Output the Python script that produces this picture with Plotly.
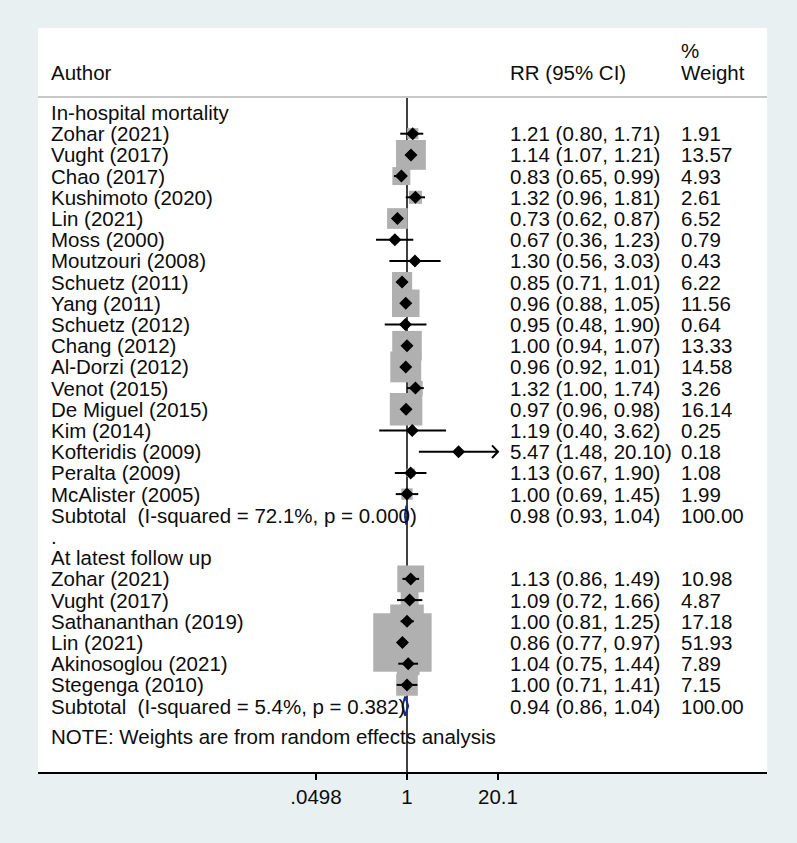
import math
import plotly.graph_objects as go

# ---------------- data ----------------
group_titles = ["In-hospital mortality", "At latest follow up"]

g1_authors = ["Zohar (2021)", "Vught (2017)", "Chao (2017)", "Kushimoto (2020)", "Lin (2021)",
              "Moss (2000)", "Moutzouri (2008)", "Schuetz (2011)", "Yang (2011)", "Schuetz (2012)",
              "Chang (2012)", "Al-Dorzi (2012)", "Venot (2015)", "De Miguel (2015)", "Kim (2014)",
              "Kofteridis (2009)", "Peralta (2009)", "McAlister (2005)"]
g1_rr = [1.21, 1.14, 0.83, 1.32, 0.73, 0.67, 1.30, 0.85, 0.96, 0.95, 1.00, 0.96, 1.32, 0.97, 1.19, 5.47, 1.13, 1.00]
g1_lo = [0.80, 1.07, 0.65, 0.96, 0.62, 0.36, 0.56, 0.71, 0.88, 0.48, 0.94, 0.92, 1.00, 0.96, 0.40, 1.48, 0.67, 0.69]
g1_hi = [1.71, 1.21, 0.99, 1.81, 0.87, 1.23, 3.03, 1.01, 1.05, 1.90, 1.07, 1.01, 1.74, 0.98, 3.62, 20.10, 1.90, 1.45]
g1_w = [1.91, 13.57, 4.93, 2.61, 6.52, 0.79, 0.43, 6.22, 11.56, 0.64, 13.33, 14.58, 3.26, 16.14, 0.25, 0.18, 1.08, 1.99]
g1_sub_label = "Subtotal  (I-squared = 72.1%, p = 0.000)"
g1_sub = (0.98, 0.93, 1.04)

g2_authors = ["Zohar (2021)", "Vught (2017)", "Sathananthan (2019)", "Lin (2021)", "Akinosoglou (2021)", "Stegenga (2010)"]
g2_rr = [1.13, 1.09, 1.00, 0.86, 1.04, 1.00]
g2_lo = [0.86, 0.72, 0.81, 0.77, 0.75, 0.71]
g2_hi = [1.49, 1.66, 1.25, 0.97, 1.44, 1.41]
g2_w = [10.98, 4.87, 17.18, 51.93, 7.89, 7.15]
g2_sub_label = "Subtotal  (I-squared = 5.4%, p = 0.382)"
g2_sub = (0.94, 0.86, 1.04)

note_text = "NOTE: Weights are from random effects analysis"
tick_vals = [0.0498, 1, 20.1]
tick_text = [".0498", "1", "20.1"]
axis_min, axis_max = 0.0498, 20.1

# ---------------- layout constants ----------------
W, H = 797, 843
PX_L, PX_R = 38, 767          # white plot region (px)
PX_T, PX_B = 28, 772
ROW0, ROWH = 112.5, 21.2      # pixel y of row 0, row height
X1_PX = 407                   # pixel x of RR = 1
PX_PER_LN = 30.33

FONT = "Liberation Sans, Arial, sans-serif"
FS = 20.5
COL_AUTHOR, COL_RR, COL_W = 49, 508, 679

def yrow(px):
    return (px - ROW0) / ROWH

x_range = [(PX_L - X1_PX) / PX_PER_LN / math.log(10), (PX_R - X1_PX) / PX_PER_LN / math.log(10)]
y_range = [yrow(PX_B), yrow(PX_T)]

# ---------------- rows ----------------
rows = []  # (row index, author text, rr text, weight text, kind, data)
r = 0
rows.append((r, group_titles[0], "", "", "title", None)); r += 1
for a, e, lo, hi, w in zip(g1_authors, g1_rr, g1_lo, g1_hi, g1_w):
    rows.append((r, a, f"{e:.2f} ({lo:.2f}, {hi:.2f})", f"{w:.2f}", "study", (e, lo, hi, w))); r += 1
rows.append((r, g1_sub_label, f"{g1_sub[0]:.2f} ({g1_sub[1]:.2f}, {g1_sub[2]:.2f})", "100.00", "sub", g1_sub)); r += 1
rows.append((r, ".", "", "", "blank", None)); r += 1
rows.append((r, group_titles[1], "", "", "title", None)); r += 1
for a, e, lo, hi, w in zip(g2_authors, g2_rr, g2_lo, g2_hi, g2_w):
    rows.append((r, a, f"{e:.2f} ({lo:.2f}, {hi:.2f})", f"{w:.2f}", "study", (e, lo, hi, w))); r += 1
rows.append((r, g2_sub_label, f"{g2_sub[0]:.2f} ({g2_sub[1]:.2f}, {g2_sub[2]:.2f})", "100.00", "sub", g2_sub)); r += 1
note_row = r + 0.45

fig = go.Figure()

studies = [row for row in rows if row[4] == "study"]
K = 8.1
fig.add_trace(go.Scatter(
    x=[s[5][0] for s in studies], y=[s[0] for s in studies], mode="markers",
    marker=dict(symbol="square", size=[K * math.sqrt(s[5][3]) for s in studies], color="#b0b0b0",
                opacity=1, line=dict(width=0)), hoverinfo="skip", showlegend=False))

# CI lines
cx, cy = [], []
arrow_x, arrow_y = [], []
for s in studies:
    e, lo, hi, w = s[5]
    lo_c = max(lo, axis_min)
    hi_c = min(hi, axis_max)
    cx += [lo_c, hi_c, None]
    cy += [s[0], s[0], None]
    if hi >= axis_max:
        back = math.exp(-6 / PX_PER_LN)
        arrow_x += [hi_c * back, hi_c, hi_c * back, None]
        arrow_y += [s[0] - 0.3, s[0], s[0] + 0.3, None]
fig.add_trace(go.Scatter(x=cx, y=cy, mode="lines", line=dict(color="black", width=2),
                         hoverinfo="skip", showlegend=False))
fig.add_trace(go.Scatter(x=arrow_x, y=arrow_y, mode="lines", line=dict(color="black", width=2),
                         hoverinfo="skip", showlegend=False))
fig.add_trace(go.Scatter(
    x=[s[5][0] for s in studies], y=[s[0] for s in studies], mode="markers",
    marker=dict(symbol="diamond", size=10, color="black", opacity=1), hoverinfo="skip", showlegend=False))

# subtotal diamonds
for row in rows:
    if row[4] == "sub":
        e, lo, hi = row[5]
        y0 = row[0]
        fig.add_trace(go.Scatter(x=[lo, e, hi, e, lo], y=[y0, y0 - 0.45, y0, y0 + 0.45, y0],
                                 mode="lines", line=dict(color="#1a2a8a", width=2),
                                 hoverinfo="skip", showlegend=False))

# text
ann = []
def txt(xpx, y, s):
    ann.append(dict(x=xpx / W, xref="paper", y=y, yref="y", text=s, showarrow=False,
                    xanchor="left", yanchor="middle", font=dict(family=FONT, size=FS, color="#0d0d0d")))
for row in rows:
    txt(COL_AUTHOR, row[0], row[1])
    if row[2]:
        txt(COL_RR, row[0], row[2])
    if row[3]:
        txt(COL_W, row[0], row[3])
txt(COL_AUTHOR, note_row, note_text)
txt(COL_AUTHOR, yrow(72), "Author")
txt(COL_RR, yrow(72), "RR (95% CI)")
txt(COL_W, yrow(72), "Weight")
txt(COL_W, yrow(50), "%")

shapes = [
    dict(type="line", xref="paper", yref="y", x0=PX_L / W, x1=PX_R / W, y0=yrow(97), y1=yrow(97),
         line=dict(color="#c8c8c8", width=2)),
    dict(type="line", xref="x", yref="y", x0=1, x1=1, y0=yrow(97), y1=yrow(PX_B),
         line=dict(color="black", width=1.5), layer="below"),
]

fig.update_layout(
    width=W, height=H, margin=dict(l=0, r=0, t=0, b=0),
    paper_bgcolor="#e8f0f2", plot_bgcolor="white",
    annotations=ann, shapes=shapes,
    xaxis=dict(type="log", domain=[PX_L / W, PX_R / W], range=x_range, showgrid=False, zeroline=False,
               showline=True, linecolor="black", linewidth=1.5, ticks="outside", ticklen=6,
               tickcolor="black", tickwidth=1.5, tickvals=tick_vals, ticktext=tick_text,
               tickfont=dict(family=FONT, size=FS, color="#0d0d0d")),
    yaxis=dict(domain=[(H - PX_B) / H, (H - PX_T) / H], range=y_range, showgrid=False, zeroline=False,
               showline=False, showticklabels=False, ticks=""),
)

fig.write_html("out.html", config={"displayModeBar": False},
               post_script="document.body.style.margin='0px';")
